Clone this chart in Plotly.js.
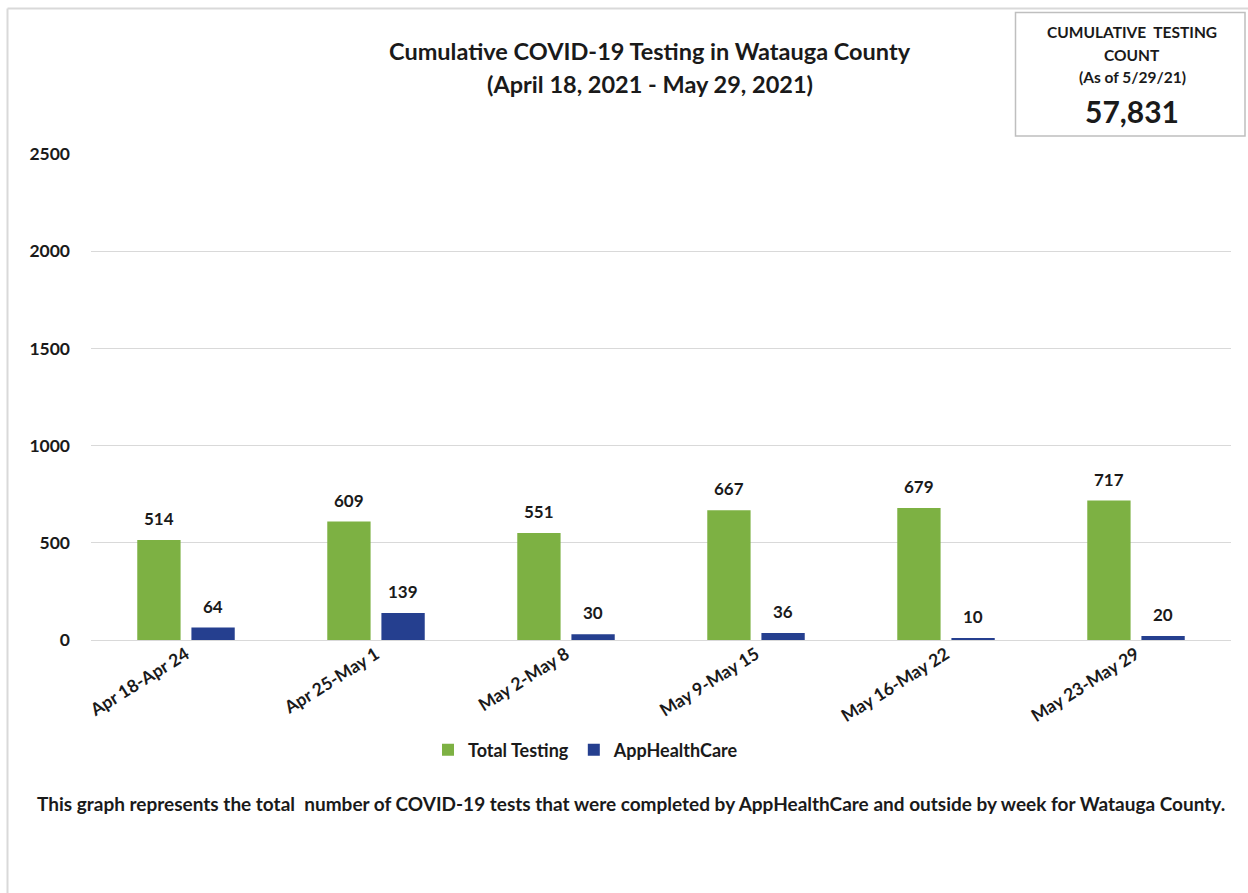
<!DOCTYPE html>
<html>
<head>
<meta charset="utf-8">
<script src="https://cdn.plot.ly/plotly-3.0.1.min.js"></script>
<style>
html,body{margin:0;padding:0;background:#fff;}
#chart{width:1248px;height:893px;}
</style>
</head>
<body>
<div id="chart"></div>
<script>
const categories = ["Apr 18-Apr 24", "Apr 25-May 1", "May 2-May 8", "May 9-May 15", "May 16-May 22", "May 23-May 29"];
const totalTesting = [514, 609, 551, 667, 679, 717];
const appHealthCare = [64, 139, 30, 36, 10, 20];
const cumulativeCount = "57,831";
const yTicks = [0, 500, 1000, 1500, 2000, 2500];

const FONT = "Lato, 'Open Sans', sans-serif";
const TXT = "#1a1a1a";

const traces = [
  {
    type: "bar", name: "Total Testing", x: categories, y: totalTesting,
    marker: {color: "#7DB143"}
  },
  {
    type: "bar", name: "AppHealthCare", x: categories, y: appHealthCare,
    marker: {color: "#253F8F"}
  }
];

// pixel->paper helpers (plot area: x 91..1231, y 154..640)
const L = 91, R = 17, T = 154, B = 253, W = 1248, H = 893;
const pw = W - L - R, ph = H - T - B;
const px = v => (v - L) / pw;
const py = v => (H - B - v) / ph;

const labelFont = {family: FONT, size: 17, color: TXT, weight: "bold"};
const valueLabels = [];
categories.forEach((c, i) => {
  valueLabels.push({xref: "x", yref: "y", x: c, y: totalTesting[i], xshift: -27, yshift: 9,
    xanchor: "center", yanchor: "bottom", showarrow: false, text: String(totalTesting[i]), font: labelFont});
  valueLabels.push({xref: "x", yref: "y", x: c, y: appHealthCare[i], xshift: 27, yshift: 9,
    xanchor: "center", yanchor: "bottom", showarrow: false, text: String(appHealthCare[i]), font: labelFont});
});

const layout = {
  width: W, height: H,
  margin: {l: L, r: R, t: T, b: B, pad: 0},
  paper_bgcolor: "#ffffff", plot_bgcolor: "#ffffff",
  font: {family: FONT, color: TXT, size: 17, weight: "bold"},
  barmode: "group", bargap: 0.43, bargroupgap: 0.2,
  showlegend: true,
  legend: {
    orientation: "h", x: px(586), xanchor: "center", y: py(750), yanchor: "middle",
    font: {family: FONT, size: 18, color: TXT, weight: "bold"},
    itemwidth: 30, tracegroupgap: 0, itemsizing: "constant"
  },
  xaxis: {
    type: "category", tickangle: -32, showgrid: false, showline: false, zeroline: false,
    ticks: "", tickfont: {family: FONT, size: 17.5, color: TXT, weight: "bold"},
    fixedrange: true
  },
  yaxis: {
    range: [0, 2500], tickvals: yTicks, ticktext: yTicks.map(String),
    showgrid: true, gridcolor: "#d9d9d9", gridwidth: 1,
    zeroline: true, zerolinecolor: "#d9d9d9", zerolinewidth: 1,
    showline: false, ticks: "", ticklabelstandoff: 20,
    tickfont: {family: FONT, size: 17.5, color: TXT, weight: "bold"},
    fixedrange: true
  },
  shapes: [
    {type: "line", xref: "paper", yref: "paper", x0: px(7.5), x1: px(7.5), y0: py(8.5), y1: py(893), line: {color: "#d9d9d9", width: 2}},
    {type: "line", xref: "paper", yref: "paper", x0: px(7.5), x1: px(1248), y0: py(8.5), y1: py(8.5), line: {color: "#d9d9d9", width: 2}},
    {type: "rect", xref: "paper", yref: "paper", x0: px(1015.5), x1: px(1245), y0: py(12.5), y1: py(136), line: {color: "#bfbfbf", width: 1.5}, fillcolor: "rgba(0,0,0,0)"}
  ],
  annotations: valueLabels.concat([
    {xref: "paper", yref: "paper", x: px(650), y: py(51), xanchor: "center", yanchor: "middle", showarrow: false,
     text: "Cumulative COVID-19 Testing in Watauga County", font: {family: FONT, size: 23.5, color: TXT, weight: "bold"}},
    {xref: "paper", yref: "paper", x: px(650), y: py(84), xanchor: "center", yanchor: "middle", showarrow: false,
     text: "(April 18, 2021 - May 29, 2021)", font: {family: FONT, size: 23.5, color: TXT, weight: "bold"}},
    {xref: "paper", yref: "paper", x: px(1132), y: py(32), xanchor: "center", yanchor: "middle", showarrow: false,
     text: "CUMULATIVE  TESTING", font: {family: FONT, size: 15.5, color: TXT, weight: "bold"}},
    {xref: "paper", yref: "paper", x: px(1132), y: py(55), xanchor: "center", yanchor: "middle", showarrow: false,
     text: "COUNT", font: {family: FONT, size: 15.5, color: TXT, weight: "bold"}},
    {xref: "paper", yref: "paper", x: px(1132), y: py(77), xanchor: "center", yanchor: "middle", showarrow: false,
     text: "(As of 5/29/21)", font: {family: FONT, size: 15.5, color: TXT, weight: "bold"}},
    {xref: "paper", yref: "paper", x: px(1132), y: py(111), xanchor: "center", yanchor: "middle", showarrow: false,
     text: cumulativeCount, font: {family: FONT, size: 30, color: TXT, weight: "bold"}},
    {xref: "paper", yref: "paper", x: px(631), y: py(803), xanchor: "center", yanchor: "middle", showarrow: false,
     text: "This graph represents the total  number of COVID-19 tests that were completed by AppHealthCare and outside by week for Watauga County.",
     font: {family: FONT, size: 19, color: TXT, weight: "bold"}}
  ])
};

Plotly.newPlot("chart", traces, layout, {displayModeBar: false, staticPlot: true});
</script>
</body>
</html>
